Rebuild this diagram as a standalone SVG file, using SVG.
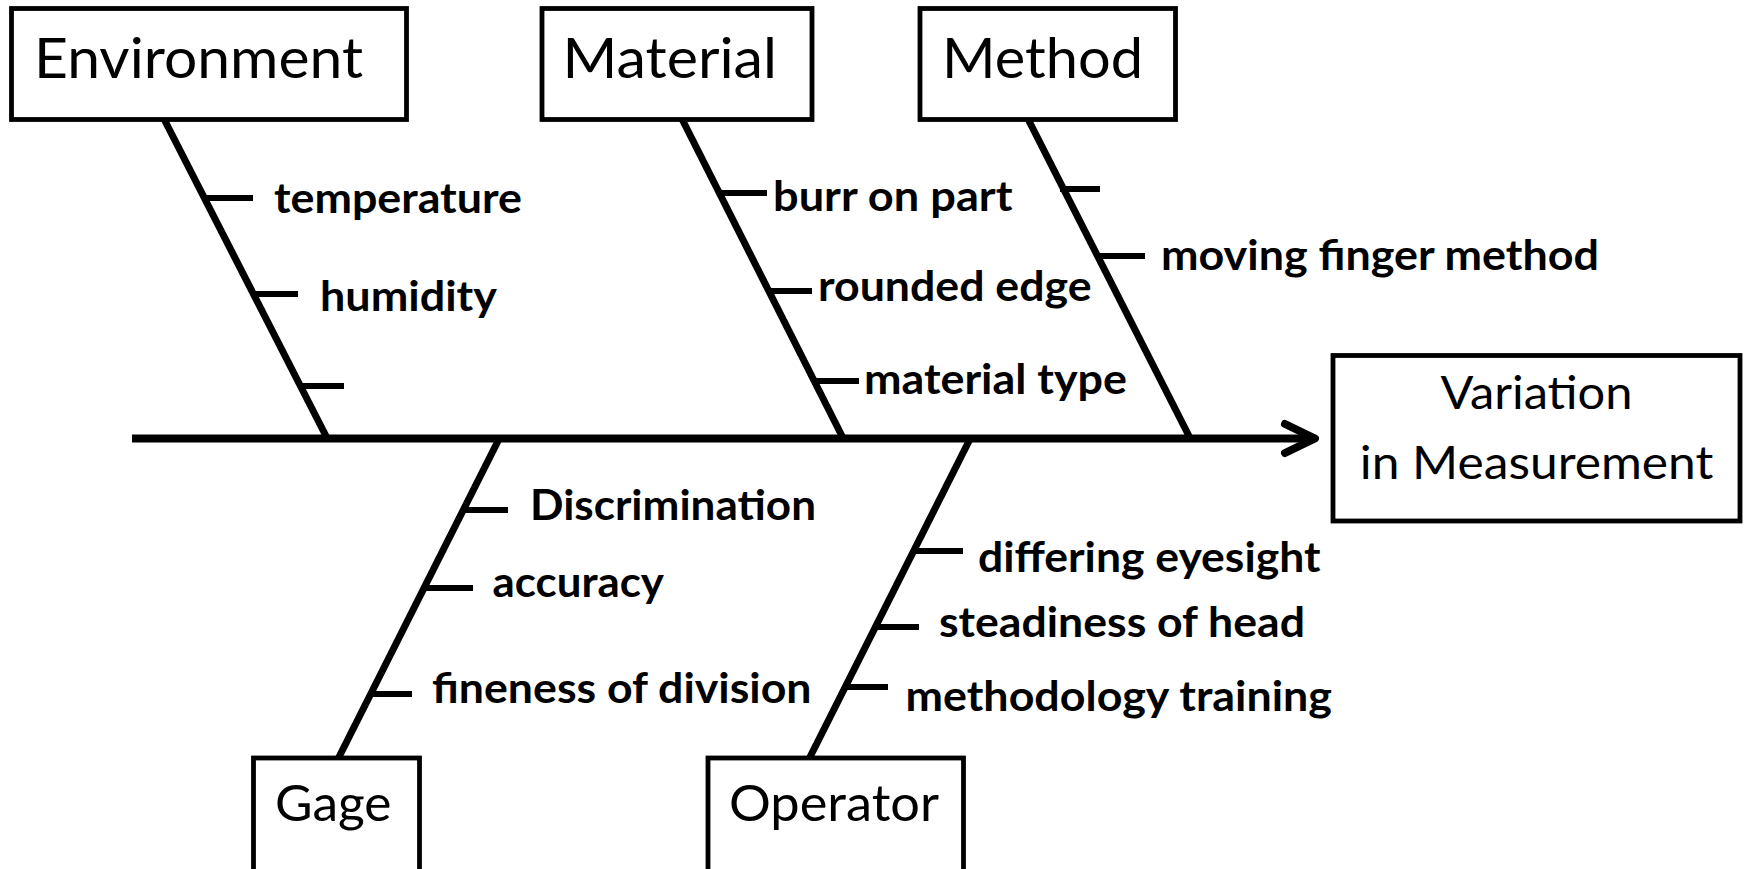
<svg xmlns="http://www.w3.org/2000/svg" width="1744" height="869" viewBox="0 0 1744 869">
  <style>
    .box { fill: #ffffff; stroke: #000000; stroke-width: 4.8; }
    .head { font-family: Lato, "Open Sans", "Liberation Sans", sans-serif; font-weight: 400; fill: #000000; }
    .cause { font-family: Lato, "Open Sans", "Liberation Sans", sans-serif; font-weight: 700; font-size: 42px; fill: #000000; }
    .bone { stroke: #000000; stroke-width: 7; fill: none; }
    .spine { stroke: #000000; stroke-width: 8; fill: none; }
    .tick { stroke: #000000; stroke-width: 6; fill: none; }
  </style>
  <rect width="1744" height="869" fill="#ffffff"/>

  <!-- spine, bones and sub-cause ticks -->
  <g id="connectors">
    <line class="spine" x1="132" y1="438.5" x2="1312" y2="438.5"/>
    <polyline class="spine" points="1285,424 1315,438.5 1285,453" stroke-linecap="round" stroke-linejoin="round"/>

    <line class="bone" x1="164" y1="119" x2="327" y2="438"/>
    <line class="bone" x1="682" y1="119" x2="843" y2="438"/>
    <line class="bone" x1="1028" y1="119" x2="1190" y2="438"/>
    <line class="bone" x1="499" y1="439" x2="338" y2="759"/>
    <line class="bone" x1="970" y1="439" x2="809" y2="759"/>

    <line class="tick" x1="204" y1="198" x2="253" y2="198"/>
    <line class="tick" x1="252" y1="294" x2="298" y2="294"/>
    <line class="tick" x1="299" y1="386" x2="344" y2="386"/>

    <line class="tick" x1="718" y1="193" x2="767" y2="193"/>
    <line class="tick" x1="768" y1="291" x2="812" y2="291"/>
    <line class="tick" x1="813" y1="381" x2="859" y2="381"/>

    <line class="tick" x1="1060" y1="189" x2="1100" y2="189"/>
    <line class="tick" x1="1097" y1="256" x2="1145" y2="256"/>

    <line class="tick" x1="463" y1="510" x2="508" y2="510"/>
    <line class="tick" x1="424" y1="588" x2="473" y2="588"/>
    <line class="tick" x1="370" y1="694" x2="412" y2="694"/>

    <line class="tick" x1="913" y1="551" x2="963" y2="551"/>
    <line class="tick" x1="875" y1="627" x2="919" y2="627"/>
    <line class="tick" x1="845" y1="687" x2="888" y2="687"/>
  </g>

  <!-- category: Environment -->
  <g id="environment">
    <rect class="box" x="11.5" y="8.5" width="395" height="111"/>
    <text class="head" x="34" y="78" font-size="57" textLength="329" lengthAdjust="spacingAndGlyphs">Environment</text>
    <text class="cause" x="274" y="213" textLength="248" lengthAdjust="spacingAndGlyphs">temperature</text>
    <text class="cause" x="320" y="311" textLength="177" lengthAdjust="spacingAndGlyphs">humidity</text>
  </g>

  <!-- category: Material -->
  <g id="material">
    <rect class="box" x="542" y="8.5" width="270" height="111"/>
    <text class="head" x="562.5" y="77.5" font-size="57" textLength="214.5" lengthAdjust="spacingAndGlyphs">Material</text>
    <text class="cause" x="773" y="211" textLength="239.5" lengthAdjust="spacingAndGlyphs">burr on part</text>
    <text class="cause" x="818" y="301" textLength="273.5" lengthAdjust="spacingAndGlyphs">rounded edge</text>
    <text class="cause" x="864" y="394" textLength="263" lengthAdjust="spacingAndGlyphs">material type</text>
  </g>

  <!-- category: Method -->
  <g id="method">
    <rect class="box" x="920" y="8.5" width="255.5" height="111"/>
    <text class="head" x="942" y="77.5" font-size="57" textLength="201" lengthAdjust="spacingAndGlyphs">Method</text>
    <text class="cause" x="1161" y="270" textLength="438" lengthAdjust="spacingAndGlyphs">moving finger method</text>
  </g>

  <!-- category: Gage -->
  <g id="gage">
    <rect class="box" x="253.5" y="758" width="166" height="130"/>
    <text class="head" x="275" y="821" font-size="51" textLength="116.5" lengthAdjust="spacingAndGlyphs">Gage</text>
    <text class="cause" x="530" y="520" textLength="286" lengthAdjust="spacingAndGlyphs">Discrimination</text>
    <text class="cause" x="492.5" y="596.5" textLength="171.5" lengthAdjust="spacingAndGlyphs">accuracy</text>
    <text class="cause" x="432" y="703" textLength="379.5" lengthAdjust="spacingAndGlyphs">fineness of division</text>
  </g>

  <!-- category: Operator -->
  <g id="operator">
    <rect class="box" x="708" y="758" width="255.5" height="130"/>
    <text class="head" x="729" y="821" font-size="51" textLength="210" lengthAdjust="spacingAndGlyphs">Operator</text>
    <text class="cause" x="978" y="572" textLength="342.5" lengthAdjust="spacingAndGlyphs">differing eyesight</text>
    <text class="cause" x="939" y="636.5" textLength="366" lengthAdjust="spacingAndGlyphs">steadiness of head</text>
    <text class="cause" x="905.5" y="711" textLength="426.5" lengthAdjust="spacingAndGlyphs">methodology training</text>
  </g>

  <!-- effect -->
  <g id="effect">
    <rect class="box" x="1333" y="355.5" width="407" height="165.5"/>
    <text class="head" x="1536.5" y="409" font-size="46" text-anchor="middle" textLength="192" lengthAdjust="spacingAndGlyphs">Variation</text>
    <text class="head" x="1536.5" y="479" font-size="46" text-anchor="middle" textLength="353.5" lengthAdjust="spacingAndGlyphs">in Measurement</text>
  </g>
</svg>
